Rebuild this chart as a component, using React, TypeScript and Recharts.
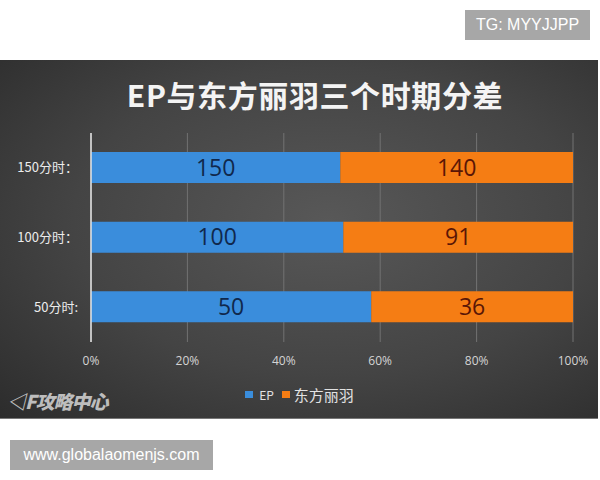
import { Bar, BarChart, CartesianGrid, LabelList, Legend, XAxis, YAxis } from 'recharts';

const categories = ['150分时：', '100分时：', '50分时:'];
const epValues = [150, 100, 50];
const dfValues = [140, 91, 36];
const xTicks = [0, 0.2, 0.4, 0.6, 0.8, 1];

const data = categories.map((name, i) => ({ name, ep: epValues[i], df: dfValues[i] }));

const CJK = '"Noto Sans CJK SC", "Noto Sans", sans-serif';
const BLUE = '#3a8ddc';
const ORANGE = '#f57d14';

function LegendContent() {
  return (
    <div
      style={{
        display: 'flex',
        alignItems: 'center',
        justifyContent: 'center',
        fontFamily: CJK,
        color: '#e2e2e2',
        paddingLeft: 26,
      }}
    >
      <span style={{ width: 8, height: 7, background: BLUE, display: 'inline-block', marginRight: 6 }} />
      <span style={{ fontSize: 12, marginRight: 8 }}>EP</span>
      <span style={{ width: 8, height: 7, background: ORANGE, display: 'inline-block', marginRight: 4 }} />
      <span style={{ fontSize: 15 }}>东方丽羽</span>
    </div>
  );
}

export default function App() {
  return (
    <div
      style={{
        position: 'absolute',
        left: 0,
        top: 0,
        width: 600,
        height: 480,
        background: '#fff',
        overflow: 'hidden',
      }}
    >
      <div
        style={{
          position: 'absolute',
          left: 465,
          top: 10,
          width: 125,
          height: 30,
          background: '#a7a7a7',
          color: '#fff',
          fontFamily: '"Liberation Sans", Arial, sans-serif',
          fontSize: 16,
          lineHeight: '30px',
          textAlign: 'center',
        }}
      >
        TG: MYYJJPP
      </div>

      <div
        style={{
          position: 'absolute',
          left: 0,
          top: 60,
          width: 598,
          height: 358,
          background:
            'radial-gradient(ellipse at 55% 45%, #585858 0%, #444 55%, #2c2c2c 100%)',
          borderBottom: '1px solid #777',
        }}
      >
        <div
          style={{
            position: 'absolute',
            left: 0,
            top: 12,
            width: 630,
            textAlign: 'center',
            fontFamily: CJK,
            fontWeight: 700,
            fontSize: 30,
            color: '#f4f4f4',
            letterSpacing: 0.6,
          }}
        >
          EP与东方丽羽三个时期分差
        </div>

        <div
          style={{
            position: 'absolute',
            left: 7,
            top: 327,
            fontFamily: CJK,
            fontWeight: 900,
            fontStyle: 'italic',
            fontSize: 19,
            color: '#bdbdbd',
            letterSpacing: -1,
          }}
        >
          ◁F攻略中心
        </div>

        <BarChart
          width={598}
          height={358}
          data={data}
          layout="vertical"
          stackOffset="expand"
          margin={{ top: 73, right: 25, bottom: 0, left: 0 }}
          style={{ position: 'absolute', left: 0, top: 0 }}
        >
          <CartesianGrid horizontal={false} stroke="#727272" strokeWidth={1} />
          <XAxis
            type="number"
            domain={[0, 1]}
            ticks={xTicks}
            tickFormatter={(v: number) => `${Math.round(v * 100)}%`}
            axisLine={false}
            tickLine={false}
            tickMargin={8}
            height={55}
            tick={{ fill: '#d4d4d4', fontSize: 12, fontFamily: '"Open Sans", sans-serif' }}
          />
          <YAxis
            type="category"
            dataKey="name"
            width={91}
            axisLine={{ stroke: '#e6e6e6', strokeWidth: 1.5 }}
            tickLine={false}
            tickMargin={7}
            tick={{ fill: '#ececec', fontSize: 13, fontFamily: CJK }}
          />
          <Legend content={<LegendContent />} verticalAlign="bottom" wrapperStyle={{ bottom: 13 }} />
          <Bar dataKey="ep" name="EP" stackId="a" fill={BLUE} barSize={31} isAnimationActive={false}>
            <LabelList
              dataKey="ep"
              position="center"
              fill="#10284c"
              fontSize={23}
              fontFamily='"Open Sans", sans-serif'
            />
          </Bar>
          <Bar dataKey="df" name="东方丽羽" stackId="a" fill={ORANGE} barSize={31} isAnimationActive={false}>
            <LabelList
              dataKey="df"
              position="center"
              fill="#5a1606"
              fontSize={23}
              fontFamily='"Open Sans", sans-serif'
            />
          </Bar>
        </BarChart>
      </div>

      <div
        style={{
          position: 'absolute',
          left: 10,
          top: 440,
          width: 203,
          height: 30,
          background: '#a7a7a7',
          color: '#fff',
          fontFamily: '"Liberation Sans", Arial, sans-serif',
          fontSize: 16,
          lineHeight: '30px',
          textAlign: 'center',
        }}
      >
        www.globalaomenjs.com
      </div>
    </div>
  );
}
